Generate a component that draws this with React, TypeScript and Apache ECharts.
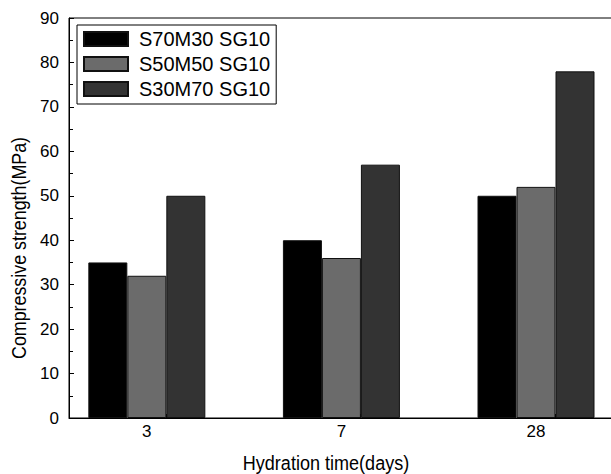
import React, { useEffect, useRef } from "react";
import * as echarts from "echarts";

const categories = ["3", "7", "28"];
const seriesNames = ["S70M30 SG10", "S50M50 SG10", "S30M70 SG10"];
const s70m30 = [35, 40, 50];
const s50m50 = [32, 36, 52];
const s30m70 = [50, 57, 78];
const yTicks = [0, 10, 20, 30, 40, 50, 60, 70, 80, 90];
const colors = ["#000000", "#6b6b6b", "#333333"];

export default function App() {
  const ref = useRef<HTMLDivElement>(null);
  useEffect(() => {
    if (!ref.current) return;
    const chart = echarts.init(ref.current, null, { renderer: "svg" });
    const positions = categories.map((_, i) => i + 1);
    const allSeries = [s70m30, s50m50, s30m70];
    const font = "'Liberation Sans', Arial, sans-serif";
    chart.setOption({
      animation: false,
      textStyle: { fontFamily: font },
      grid: {
        left: 69,
        top: 18,
        bottom: 56,
        width: 583.75,
        show: true,
        borderColor: "#000",
        borderWidth: 1,
        containLabel: false,
        outerBoundsMode: "none",
      },
      legend: {
        orient: "vertical",
        left: 77,
        top: 25,
        padding: [4, 6, 5, 6],
        borderColor: "#000",
        borderWidth: 1,
        itemWidth: 44,
        itemHeight: 14,
        itemGap: 5,
        icon: "rect",
        textStyle: { fontSize: 20, color: "#000", fontFamily: font, lineHeight: 19, padding: [0, 0, 0, 6] },
        data: seriesNames,
      },
      xAxis: {
        type: "value",
        min: 0.6,
        max: 3.6,
        splitLine: { show: false },
        axisLine: { show: true, lineStyle: { color: "#000", width: 1 } },
        axisTick: {
          show: true,
          inside: true,
          length: 4,
          customValues: positions.map((p) => p + 0.098),
          lineStyle: { color: "#000" },
        },
        axisLabel: {
          customValues: positions,
          fontSize: 17,
          color: "#000",
          margin: 5,
          formatter: (v: number) => categories[Math.round(v) - 1] ?? "",
        },
      },
      yAxis: {
        type: "value",
        min: yTicks[0],
        max: yTicks[yTicks.length - 1],
        interval: 10,
        splitLine: { show: false },
        axisLine: { show: true, lineStyle: { color: "#000", width: 1 } },
        axisTick: { show: true, inside: true, length: 5, lineStyle: { color: "#000" } },
        minorTick: { show: true, splitNumber: 2, length: 4, lineStyle: { color: "#000" } },
        axisLabel: { fontSize: 17, color: "#000", margin: 10 },
      },
      graphic: [
        {
          type: "text",
          x: 18,
          y: 248,
          rotation: Math.PI / 2,
          scaleX: 0.85,
          style: {
            text: "Compressive strength(MPa)",
            fontSize: 21,
            fontFamily: font,
            fill: "#000",
            align: "center",
            verticalAlign: "middle",
          },
        },
        {
          type: "text",
          x: 326,
          y: 462,
          scaleX: 0.86,
          style: {
            text: "Hydration time(days)",
            fontSize: 21,
            fontFamily: font,
            fill: "#000",
            align: "center",
            verticalAlign: "middle",
          },
        },
      ],
      series: allSeries.map((vals, si) => ({
        name: seriesNames[si],
        type: "bar",
        barWidth: 39,
        barGap: "0%",
        data: vals.map((v, i) => [positions[i], v]),
        itemStyle: { color: colors[si], borderColor: "#111", borderWidth: 1 },
      })),
    });
    return () => chart.dispose();
  }, []);
  return (
    <div style={{ position: "absolute", left: 0, top: 0, width: 611, height: 474, overflow: "hidden", background: "#fff" }}>
      <div ref={ref} style={{ width: 680, height: 474 }} />
    </div>
  );
}
